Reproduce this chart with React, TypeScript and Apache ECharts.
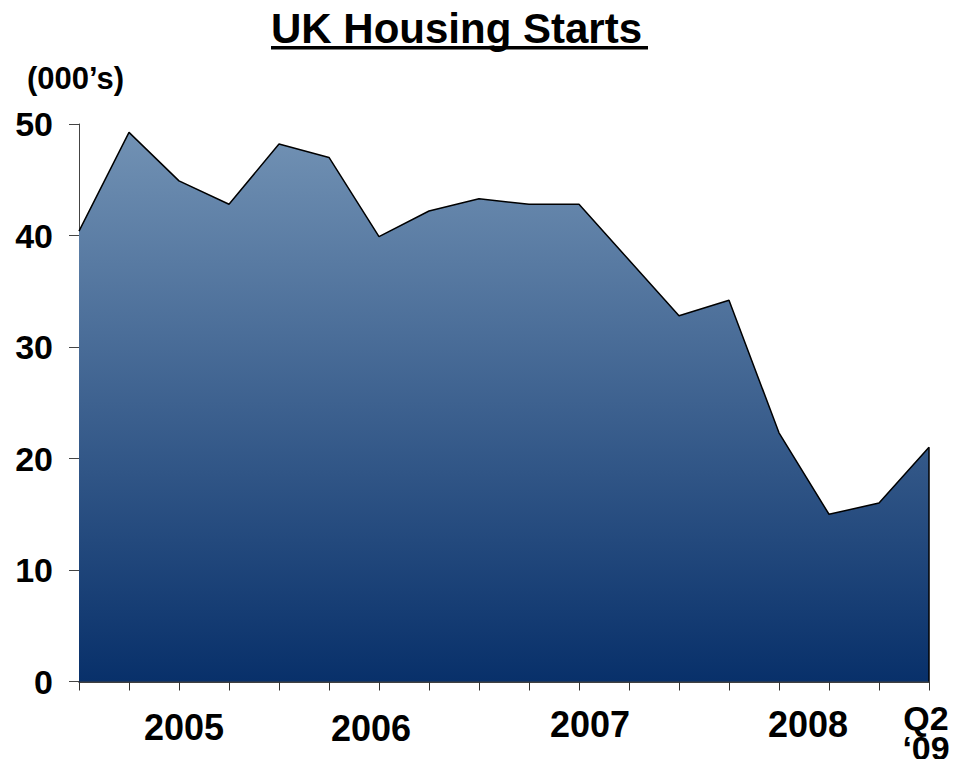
import React, { useEffect, useRef } from "react";
import * as echarts from "echarts";

const quarters = [
  "Q1 05", "Q2 05", "Q3 05", "Q4 05",
  "Q1 06", "Q2 06", "Q3 06", "Q4 06",
  "Q1 07", "Q2 07", "Q3 07", "Q4 07",
  "Q1 08", "Q2 08", "Q3 08", "Q4 08",
  "Q1 09", "Q2 09",
];
const starts = [
  40.4, 49.25, 44.9, 42.8, 48.2, 47.0, 39.9, 42.2, 43.3,
  42.8, 42.8, 37.8, 32.8, 34.2, 22.3, 15.0, 16.0, 21.0,
];
const tickLabels: Record<number, string> = {
  2: "2005",
  6: "2006",
  10: "2007",
  15: "2008",
  17: "Q2\n‘09",
};
const yTicks = [0, 10, 20, 30, 40, 50];
const title = "UK Housing Starts";
const unitLabel = "(000’s)";

const labelStyle: Record<number, string> = {
  2: "a",
  6: "b",
  10: "c",
  15: "d",
  17: "e",
};

export default function App() {
  const ref = useRef<HTMLDivElement>(null);
  useEffect(() => {
    if (!ref.current) return;
    const chart = echarts.init(ref.current, null, { renderer: "svg" });
    const baseFont = {
      fontFamily: "Liberation Sans, Arial, sans-serif",
      fontWeight: "bold" as const,
      fontSize: 36,
      color: "#000",
    };
    chart.setOption({
      animation: false,
      grid: { left: 79, right: 41, top: 124, bottom: 85.5, containLabel: false },
      graphic: [
        {
          type: "text",
          left: 271,
          top: 7,
          style: {
            text: title,
            fontFamily: "Liberation Sans, Arial, sans-serif",
            fontWeight: "bold",
            fontSize: 42,
            fill: "#000",
          },
        },
        {
          type: "rect",
          shape: { x: 271, y: 46, width: 377, height: 3.5 },
          style: { fill: "#000" },
        },
        {
          type: "text",
          left: 27,
          top: 63,
          style: {
            text: unitLabel,
            fontFamily: "Liberation Sans, Arial, sans-serif",
            fontWeight: "bold",
            fontSize: 31,
            fill: "#000",
          },
        },
      ],
      xAxis: {
        type: "category",
        data: quarters,
        boundaryGap: false,
        axisLine: { lineStyle: { color: "#000", width: 1.5 } },
        axisTick: {
          show: true,
          interval: 0,
          length: 9,
          lineStyle: { color: "#333", width: 1 },
        },
        axisLabel: {
          interval: 0,
          margin: 21,
          formatter: (_v: string, idx: number) =>
            tickLabels[idx] !== undefined
              ? tickLabels[idx]
                  .split("\n")
                  .map((t) => `{${labelStyle[idx]}|${t}}`)
                  .join("\n")
              : "",
          rich: {
            a: { ...baseFont, padding: [7, 0, 0, 10] },
            b: { ...baseFont, padding: [8, 16, 0, 0] },
            c: { ...baseFont, padding: [4, 0, 0, 22] },
            d: { ...baseFont, padding: [4, 42, 0, 0] },
            e: { ...baseFont, fontSize: 34, padding: [0, 6, 0, 0], lineHeight: 30 },
          },
        },
        splitLine: { show: false },
      },
      yAxis: {
        type: "value",
        min: yTicks[0],
        max: yTicks[yTicks.length - 1],
        interval: 10,
        axisLine: { show: true, lineStyle: { color: "#444", width: 1 } },
        axisTick: { show: true, length: 10, lineStyle: { color: "#444", width: 1 } },
        axisLabel: {
          margin: 26,
          fontFamily: "Liberation Sans, Arial, sans-serif",
          fontWeight: "bold",
          fontSize: 34,
          color: "#000",
        },
        splitLine: { show: false },
      },
      series: [
        {
          type: "line",
          data: starts,
          symbol: "none",
          lineStyle: { color: "#000", width: 1.5 },
          areaStyle: {
            opacity: 1,
            color: new echarts.graphic.LinearGradient(
              0, 124, 0, 682,
              [
                { offset: 0, color: "#7393b5" },
                { offset: 1, color: "#08306a" },
              ],
              true
            ),
          },
          markLine: {
            silent: true,
            symbol: "none",
            label: { show: false },
            lineStyle: { color: "#000", width: 1.5, type: "solid" },
            data: [
              [
                { coord: [quarters[quarters.length - 1], 0] },
                { coord: [quarters[quarters.length - 1], starts[starts.length - 1]] },
              ],
            ],
          },
        },
      ],
    });
    return () => chart.dispose();
  }, []);
  return <div ref={ref} style={{ width: 970, height: 767, margin: -8 }} />;
}
